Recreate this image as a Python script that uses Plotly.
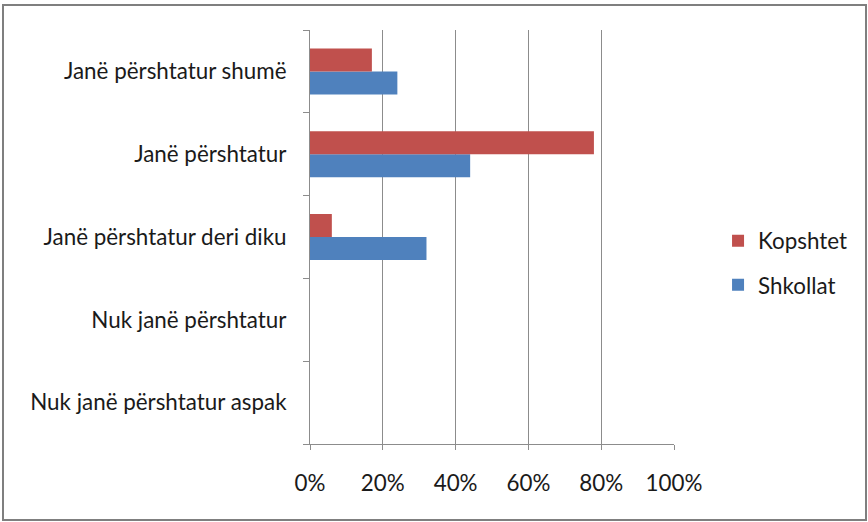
import plotly.graph_objects as go

# Categories listed bottom-to-top
categories = [
    "Nuk janë përshtatur aspak",
    "Nuk janë përshtatur",
    "Janë përshtatur deri diku",
    "Janë përshtatur",
    "Janë përshtatur shumë",
]
shkollat = [0, 0, 0.32, 0.44, 0.24]
kopshtet = [0, 0, 0.06, 0.78, 0.17]
x_ticks = [0, 0.2, 0.4, 0.6, 0.8, 1.0]
x_tick_labels = ["0%", "20%", "40%", "60%", "80%", "100%"]

FONT = "Lato, Calibri, Carlito, sans-serif"
FS = 22.4

fig = go.Figure()
fig.add_trace(go.Bar(
    y=categories, x=shkollat, name="Shkollat", orientation="h",
    marker=dict(color="#4F81BD", line=dict(width=0)),
    legendgroup="b", legendrank=2,
))
fig.add_trace(go.Bar(
    y=categories, x=kopshtet, name="Kopshtet", orientation="h",
    marker=dict(color="#C0504D", line=dict(width=0)),
    legendgroup="a", legendrank=1,
))

fig.update_layout(
    width=868, height=522,
    margin=dict(l=310, r=194, t=30, b=78, autoexpand=False),
    paper_bgcolor="white", plot_bgcolor="white",
    barmode="group", bargap=0.445, bargroupgap=0,
    font=dict(family=FONT, size=FS, color="#1a1a1a"),
    showlegend=True,
    legend=dict(
        x=1.121, y=0.437, xanchor="left", yanchor="middle",
        traceorder="grouped", tracegroupgap=12,
        font=dict(family=FONT, size=FS, color="#1a1a1a"),
        itemwidth=30, bgcolor="rgba(0,0,0,0)",
    ),
    xaxis=dict(
        range=[0, 1], tickvals=x_ticks, ticktext=x_tick_labels,
        showgrid=True, gridcolor="#8c8c8c", gridwidth=1,
        showline=True, linecolor="#8c8c8c", linewidth=1,
        ticks="outside", ticklen=5, tickcolor="#8c8c8c",
        ticklabelstandoff=14, zeroline=False, automargin=False,
        tickfont=dict(family=FONT, size=FS, color="#1a1a1a"),
    ),
    yaxis=dict(
        type="category", categoryorder="array", categoryarray=categories,
        showline=True, linecolor="#8c8c8c", linewidth=1,
        ticks="outside", ticklen=6, tickcolor="#8c8c8c",
        tickson="boundaries", showgrid=False, automargin=False,
        ticklabelstandoff=18,
        tickfont=dict(family=FONT, size=FS, color="#1a1a1a"),
    ),
    shapes=[dict(
        type="rect", xref="paper", yref="paper",
        x0=(3 - 310) / 364, x1=(866 - 310) / 364,
        y0=(444 - 520) / 414, y1=(444 - 5) / 414,
        line=dict(color="#7f7f7f", width=2), fillcolor="rgba(0,0,0,0)",
        layer="below",
    )],
)

fig.write_html(
    "out.html",
    config={"displayModeBar": False},
    post_script="document.body.style.margin='0';document.body.style.overflow='hidden';",
)
